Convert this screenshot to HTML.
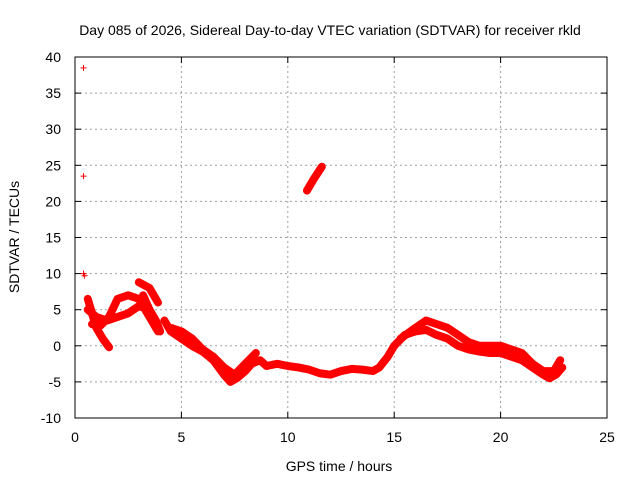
<!DOCTYPE html>
<html><head><meta charset="utf-8"><style>
body{margin:0;background:#fff}
svg text{font-family:"Liberation Sans",sans-serif;font-size:14px;fill:#000}
</style></head><body>
<svg width="640" height="480" viewBox="0 0 640 480">
<rect width="640" height="480" fill="#fff"/>
<g id="grid"></g>
<g id="axes"></g>
<g id="marks"></g>
<text x="330" y="35" text-anchor="middle">Day 085 of 2026, Sidereal Day-to-day VTEC variation (SDTVAR) for receiver rkld</text>
<text x="339" y="471" text-anchor="middle">GPS time / hours</text>
<text transform="translate(19,237) rotate(-90)" text-anchor="middle">SDTVAR / TECUs</text>
</svg>
<script>
const xTicks=[0,5,10,15,20,25];
const yTicks=[-10,-5,0,5,10,15,20,25,30,35,40];
const trackA=[[0.6,6.5],[0.8,4.5],[1.0,2.5],[1.3,1],[1.6,-0.2]];
const trackB=[[0.6,5],[1,4],[1.5,3.5],[2,4],[2.5,4.5],[3,5.5],[3.5,5],[3.8,3.5],[4,2]];
const trackC=[[0.8,3],[1.2,2.8],[1.6,4],[2,6.5],[2.5,7],[3,6.5],[3.3,5],[3.6,3.5],[3.9,2]];
const trackD=[[3.0,8.8],[3.5,8],[3.9,6]];
const trackE=[[3.2,7],[3.5,5],[3.8,2.5]];
const trackF=[[4.2,3.5],[4.5,2],[5,1],[5.5,0],[6,-0.8],[6.5,-2],[7,-4],[7.3,-5],[7.6,-4.5],[8,-3.5],[8.3,-2.5],[8.7,-2],[9,-2.8],[9.5,-2.5],[10,-2.8],[10.5,-3],[11,-3.3],[11.5,-3.8],[12,-4],[12.5,-3.5],[13,-3.2],[13.5,-3.3],[14,-3.5],[14.3,-3],[14.7,-1.5],[15,0],[15.5,1.5],[16,2],[16.5,2.2],[17,1.5],[17.5,1],[18,0],[18.5,-0.5],[19,-0.8],[19.5,-1],[20,-1],[20.5,-1.5],[21,-2],[21.5,-3],[22,-4],[22.3,-4.5],[22.6,-4],[22.9,-3]];
const trackG=[[15.3,1],[16,2.5],[16.5,3.5],[17,3],[17.5,2.5],[18,1.5],[18.5,0.5],[19,0],[19.5,0],[20,0],[20.5,-0.5],[21,-1],[21.5,-2.5],[22,-3.5],[22.5,-3.5],[22.8,-2]];
const trackI=[[4.5,2.5],[5,2],[5.5,1],[6,-0.5],[6.5,-1.5],[7,-3],[7.5,-4],[8,-2.5],[8.5,-1]];
const trackH=[[10.9,21.5],[11.2,23],[11.6,24.8]];
const outliers=[[0.4,38.5],[0.4,23.5],[0.4,10],[0.45,9.7]];
const tracks=[trackA,trackB,trackC,trackD,trackE,trackF,trackG,trackI,trackH];

const X0=75,X1=607,Y0=418,Y1=57,xMin=0,xMax=25,yMin=-10,yMax=40;
const sx=v=>X0+(v-xMin)/(xMax-xMin)*(X1-X0);
const sy=v=>Y0-(v-yMin)/(yMax-yMin)*(Y0-Y1);
const NS='http://www.w3.org/2000/svg';
function mk(tag,attrs,parent){const e=document.createElementNS(NS,tag);for(const k in attrs)e.setAttribute(k,attrs[k]);parent.appendChild(e);return e;}
const grid=document.getElementById('grid'),axes=document.getElementById('axes'),marks=document.getElementById('marks');
xTicks.forEach(t=>{
  const x=sx(t);
  if(t>xMin&&t<xMax){const l=mk('line',{x1:x,y1:Y0,x2:x,y2:Y1,stroke:'#a0a0a0','stroke-dasharray':'2,3'},grid);
  
  }
  mk('line',{x1:x,y1:Y0,x2:x,y2:Y0-6,stroke:'#000'},axes);
  mk('line',{x1:x,y1:Y1,x2:x,y2:Y1+6,stroke:'#000'},axes);
  const tx=mk('text',{x:x,y:Y0+24,'text-anchor':'middle'},axes);tx.textContent=t;
  
  
});
yTicks.forEach(t=>{
  const y=sy(t);
  if(t>yMin&&t<yMax){const l=mk('line',{x1:X0,y1:y,x2:X1,y2:y,stroke:'#a0a0a0','stroke-dasharray':'2,3'},grid);
  
  }
  mk('line',{x1:X0,y1:y,x2:X0+6,y2:y,stroke:'#000'},axes);
  mk('line',{x1:X1,y1:y,x2:X1-6,y2:y,stroke:'#000'},axes);
  const tx=mk('text',{x:X0-14,y:y+5,'text-anchor':'end'},axes);tx.textContent=t;
  
  
});
mk('rect',{x:X0,y:Y1,width:X1-X0,height:Y0-Y1,fill:'none',stroke:'#000'},axes);
tracks.forEach(tr=>{
  const p=mk('polyline',{points:tr.map(d=>sx(d[0])+','+sy(d[1])).join(' '),fill:'none',stroke:'#f00','stroke-width':8,'stroke-linejoin':'round','stroke-linecap':'round'},marks);
  
  
});
outliers.forEach(d=>{
  const x=sx(d[0]),y=sy(d[1]);
  const p=mk('path',{d:`M${x-3},${y}H${x+3}M${x},${y-3}V${y+3}`,stroke:'#f00','stroke-width':1},marks);
  
  
});
</script>
</body></html>
